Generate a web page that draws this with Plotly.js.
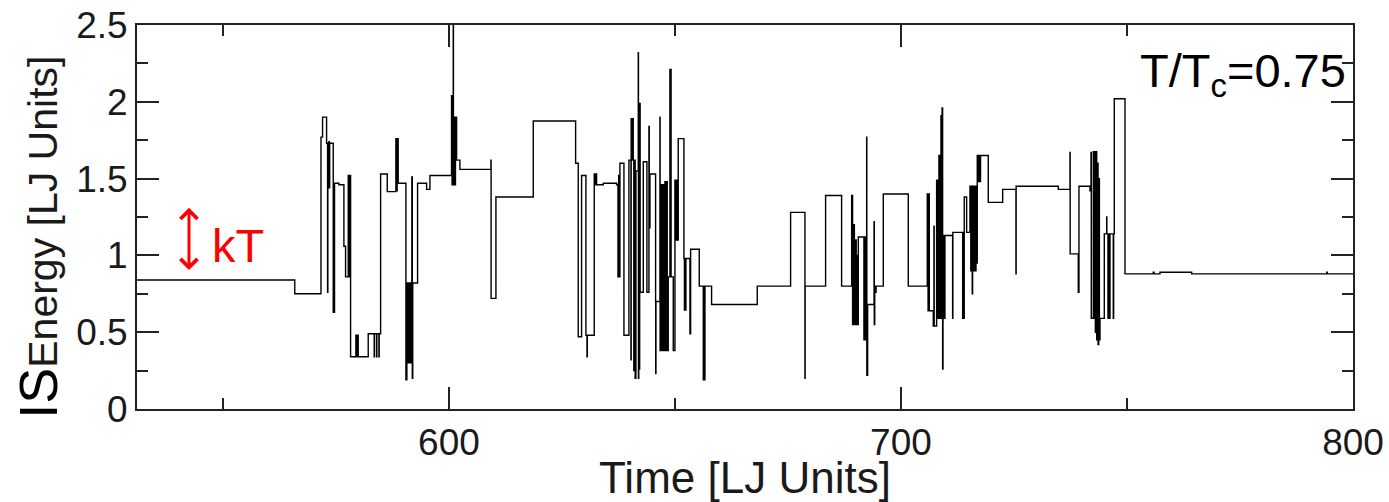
<!DOCTYPE html>
<html>
<head>
<meta charset="utf-8">
<script src="https://cdn.plot.ly/plotly-3.0.1.min.js"></script>
<style>html,body{margin:0;padding:0;background:#fff;}</style>
</head>
<body>
<div id="chart" style="width:1389px;height:502px;"></div>
<script>
// Inherent-structure energy vs time (step trajectory), T/Tc = 0.75
const times = [
  531, 565.9, 571.7, 572.05, 572.94, 573.16, 573.22, 573.35, 573.45, 573.55, 573.62,
  574.41, 574.5, 574.6, 574.7, 575.66, 576.77, 577.14, 577.73, 577.85, 577.95, 578.1, 578.18,
  578.25, 579.42, 579.6, 579.75, 579.94, 582.15, 583.47, 583.53, 584.0, 584.06, 584.52, 584.58,
  584.89, 586.36, 588.27, 588.4, 588.55, 588.78, 590.49, 590.7, 590.9, 591.1, 591.3, 591.5,
  591.7, 591.8, 591.9, 592.0, 593.07, 595.07, 595.8, 600.58, 600.7, 600.85, 600.96, 601.0,
  601.15, 601.3, 601.45, 601.7, 602.43, 609.29, 609.33, 610.4, 618.66, 628.03, 628.61, 629.35,
  630.31, 630.55, 630.62, 632.15, 632.3, 632.45, 632.67, 634.14, 637.09, 637.4, 637.55, 637.7,
  637.83, 638.72, 639.82, 640.27, 640.32, 640.45, 640.6, 640.78, 640.9, 641.05, 641.2, 641.37,
  641.89, 641.93, 642.0, 642.11, 642.2, 642.3, 643.0, 643.8, 644.25, 644.32, 644.47, 645.72,
  645.75, 645.8, 646.68, 646.72, 646.9, 647.1, 647.3, 647.5, 647.79, 647.9, 648.1, 648.3,
  648.52, 648.89, 648.95, 649.05, 649.15, 649.63, 650.0, 650.2, 650.35, 650.5, 650.73, 651.99,
  652.1, 652.2, 652.3, 652.43, 653.32, 653.47, 655.38, 656.27, 656.45, 656.55, 656.64, 658.11,
  668.21, 675.59, 678.76, 678.8, 683.33, 686.87, 689.09, 689.3, 689.5, 689.7, 689.9, 690.1,
  690.3, 690.45, 690.56, 691.81, 691.95, 692.1, 692.25, 692.41, 692.45, 692.63, 694.05, 694.1,
  694.2, 694.35, 694.5, 696.09, 701.62, 705.82, 706.0, 706.1, 706.27, 707.15, 707.3, 707.35,
  707.89, 708.0, 708.1, 708.26, 708.4, 708.5, 708.63, 708.75, 708.85, 708.95, 709.1, 709.22,
  709.3, 709.4, 709.55, 709.7, 709.73, 711.43, 711.48, 713.65, 713.75, 713.85, 714.0, 714.53,
  715.27, 715.45, 715.6, 715.77, 715.85, 716.0, 716.2, 716.4, 716.6, 716.75, 716.88, 717.0,
  717.2, 717.4, 717.6, 719.31, 722.5, 725.44, 725.48, 734.8, 737.39, 737.43, 739.23, 739.38,
  741.81, 742.04, 742.1, 742.55, 742.7, 742.85, 743.0, 743.15, 743.3, 743.45, 743.6, 743.75,
  743.9, 744.03, 744.98, 745.51, 745.55, 745.8, 745.95, 746.1, 746.24, 746.97, 747.05, 747.19,
  749.56, 755.82, 756.0, 757.3, 764.31, 794.2, 794.3, 800
];
const energies = [
  0.84, 0.75, 1.77, 1.9, 1.73, 0.76, 1.73, 1.44, 1.74, 1.44, 1.73,
  0.63, 1.47, 0.63, 1.47, 1.46, 1.06, 0.86, 1.52, 0.86, 1.52, 0.86, 1.52,
  0.34, 0.48, 0.34, 0.48, 0.34, 0.49, 0.34, 0.49, 0.34, 0.49, 0.34, 0.49,
  1.53, 1.415, 1.76, 1.42, 1.76, 1.47, 0.19, 0.82, 0.3, 0.82, 0.3, 0.82,
  0.3, 1.51, 0.2, 0.82, 1.47, 1.43, 1.52, 2.04, 1.46, 2.04, 2.7, 1.46,
  1.9, 1.46, 1.9, 1.62, 1.56, 1.62, 0.72, 1.38, 1.875, 1.6, 0.47, 1.52,
  0.48, 0.34, 0.48, 1.53, 1.46, 1.53, 1.46, 1.47, 1.46, 0.86, 1.52, 0.86,
  1.6, 0.48, 1.62, 0.32, 1.89, 1.62, 1.89, 1.62, 0.25, 1.62, 0.2, 1.55,
  2.32, 0.2, 1.99, 0.26, 1.99, 0.76, 1.61, 0.76, 1.84, 1.18, 1.53, 0.7,
  0.23, 0.7, 1.9, 0.38, 1.46, 0.38, 1.46, 0.38, 1.48, 0.38, 1.48, 0.38,
  0.86, 2.21, 0.86, 2.21, 0.86, 0.38, 1.49, 1.1, 1.49, 1.1, 1.76, 0.98,
  0.645, 0.98, 0.645, 0.98, 0.49, 1.04, 0.8, 0.19, 0.8, 0.19, 0.8, 0.68,
  0.8, 1.28, 0.2, 0.8, 1.39, 0.8, 1.39, 0.55, 1.2, 0.55, 1.1, 0.55,
  1.0, 0.55, 1.12, 0.45, 1.12, 0.45, 1.0, 1.77, 0.22, 0.68, 1.22, 0.55,
  0.8, 0.76, 0.8, 1.4, 0.8, 1.4, 0.64, 1.4, 0.64, 0.54, 1.19, 0.54,
  1.49, 0.59, 1.49, 0.59, 1.65, 0.59, 1.65, 0.59, 1.91, 0.59, 1.96, 0.26,
  1.13, 0.59, 1.13, 0.59, 1.13, 0.59, 1.15, 0.59, 1.15, 0.59, 1.38, 1.15,
  1.45, 0.9, 1.45, 0.75, 1.45, 0.9, 1.45, 0.9, 1.45, 0.95, 1.65, 1.48,
  1.65, 1.48, 1.65, 1.345, 1.43, 0.88, 1.45, 1.43, 1.67, 1.01, 0.76, 1.45,
  1.42, 1.67, 0.59, 1.675, 0.59, 1.675, 0.5, 1.675, 0.45, 1.6, 0.42, 1.5,
  0.45, 0.59, 1.14, 1.25, 1.14, 0.59, 1.14, 0.59, 1.14, 0.59, 1.14, 2.02,
  0.88, 0.89, 0.88, 0.89, 0.88, 0.89, 0.88, 0.88
];
const xRange = [531, 800];
const yRange = [0, 2.5];
const xTitle = 'Time [LJ Units]';
const yTitleRich = '<span style="font-size:54px;color:#000">IS</span>Energy [LJ Units]';
const tempLabel = 'T/T<sub>c</sub>=0.75';
const kTLabel = 'kT';
const kTArrowX = 542.5;
const kTArrowTop = 1.31;
const kTArrowBottom = 0.895;

const axisColor = '#222';
const trace = {
  x: times, y: energies, type: 'scatter', mode: 'lines',
  line: {shape: 'hv', color: '#000', width: 1.4},
  hoverinfo: 'skip'
};

const common = {
  ticks: 'inside', ticklen: 22, tickwidth: 2, tickcolor: axisColor,
  showline: true, linewidth: 2, linecolor: axisColor, mirror: 'ticks',
  showgrid: false, zeroline: false,
  tickfont: {size: 37, color: '#1a1a1a'}
};

const layout = {
  width: 1389, height: 502,
  margin: {l: 137, r: 36, t: 25, b: 93},
  paper_bgcolor: '#fff', plot_bgcolor: '#fff',
  showlegend: false,
  font: {family: '"Liberation Sans", Arial, sans-serif', color: '#1a1a1a'},
  xaxis: Object.assign({}, common, {
    range: xRange, tickmode: 'linear', tick0: 0, dtick: 100,
    minor: {dtick: 50, ticks: 'inside', ticklen: 11, tickwidth: 2, tickcolor: axisColor, showgrid: false},
    title: {text: xTitle, font: {size: 44, color: '#1a1a1a'}, standoff: 6}
  }),
  yaxis: Object.assign({}, common, {
    range: yRange, tickmode: 'linear', tick0: 0, dtick: 0.5,
    minor: {dtick: 0.25, ticks: 'inside', ticklen: 11, tickwidth: 2, tickcolor: axisColor, showgrid: false}
  }),
  annotations: [
    {text: yTitleRich, xref: 'paper', yref: 'paper', x: -0.082, y: 0.4466,
     xanchor: 'center', yanchor: 'middle', textangle: -90, showarrow: false,
     font: {size: 41, color: '#1a1a1a'}},
    {text: tempLabel, xref: 'paper', yref: 'paper', x: 0.996, y: 0.957,
     xanchor: 'right', yanchor: 'top', showarrow: false,
     font: {size: 47, color: '#000'}},
    {text: kTLabel, xref: 'paper', yref: 'paper', x: 0.060, y: 0.501,
     xanchor: 'left', yanchor: 'top', showarrow: false,
     font: {size: 47, color: '#ff0000'}},
    {text: '', xref: 'x', yref: 'y', x: kTArrowX, y: kTArrowTop,
     axref: 'x', ayref: 'y', ax: kTArrowX, ay: kTArrowBottom,
     showarrow: true, arrowside: 'end+start', arrowhead: 4, startarrowhead: 4,
     arrowsize: 1.1, startarrowsize: 1.1, arrowwidth: 3, arrowcolor: '#ff0000'}
  ]
};

Plotly.newPlot('chart', [trace], layout, {staticPlot: true, displayModeBar: false});
</script>
</body>
</html>
